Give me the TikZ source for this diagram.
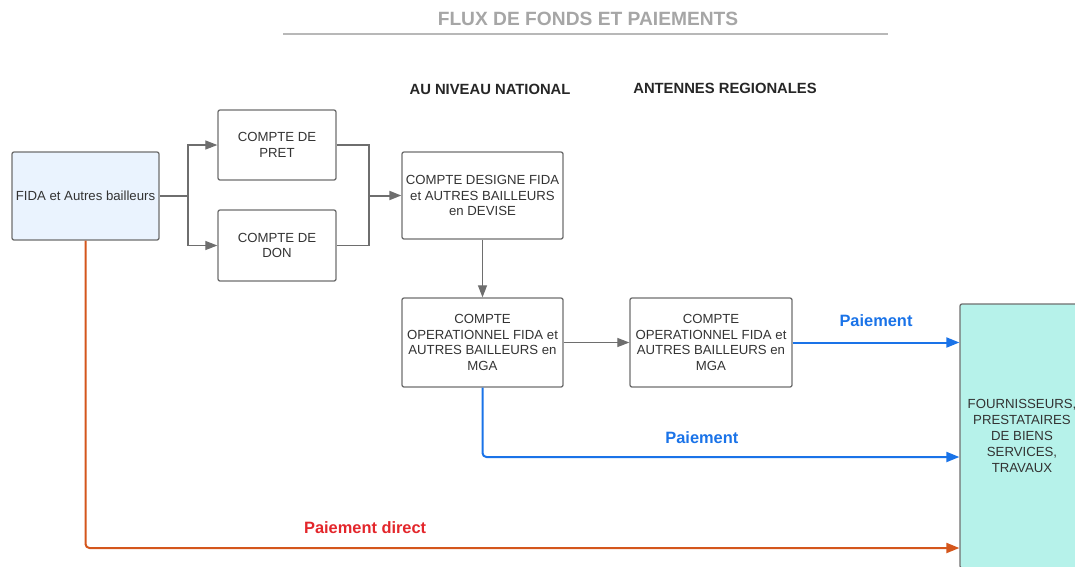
\documentclass[tikz,border=0pt]{standalone}
\usepackage{fontspec}
\setmainfont{Liberation Sans}
\usetikzlibrary{arrows.meta}
\definecolor{boxline}{HTML}{6E6E6E}
\definecolor{boxtext}{HTML}{333333}
\definecolor{srcfill}{HTML}{EAF3FE}
\definecolor{dstfill}{HTML}{B6F2EA}
\definecolor{paybl}{HTML}{1A73E8}
\definecolor{payor}{HTML}{D4561C}
\definecolor{payred}{HTML}{E3262B}
\definecolor{titlegray}{HTML}{A6A6A6}
\begin{document}
\begin{tikzpicture}[x=1pt,y=-1pt,
    acct/.style={draw=boxline,line width=1.3pt,rounded corners=2pt,align=center,text=boxtext,
        font=\fontsize{13.2}{15.8}\selectfont,inner sep=2pt},
    link/.style={draw=boxline,line width=1.2pt},
    tip/.style={-{Triangle[length=12pt,width=9pt]}},
    pay/.style={line width=2pt,rounded corners=4pt,-{Triangle[length=13pt,width=10pt]}},
    paylbl/.style={font=\fontsize{16.4}{19}\selectfont\bfseries},
    head/.style={font=\fontsize{14.8}{17}\selectfont\bfseries,text=black!85}]
    \useasboundingbox (0,0) rectangle (1075,566);
    \clip (0,0) rectangle (1075,566);
    % title
    \node[font=\fontsize{19.2}{22}\selectfont\bfseries,text=titlegray] (title) at (588,19) {FLUX DE FONDS ET PAIEMENTS};
    \draw[titlegray!80,line width=2pt] (283,34) -- (888,34);
    \node[head] (national) at (490,89) {AU NIVEAU NATIONAL};
    \node[head] (regional) at (725,88) {ANTENNES REGIONALES};
    % accounts
    \node[acct,fill=srcfill,minimum width=147pt,minimum height=88pt] (fida) at (85.5,196) {FIDA et Autres bailleurs};
    \node[acct,minimum width=118pt,minimum height=70pt] (pret) at (277,145) {COMPTE DE\\PRET};
    \node[acct,minimum width=118pt,minimum height=71pt] (don) at (277,245.5) {COMPTE DE\\DON};
    \node[acct,minimum width=161pt,minimum height=87pt] (designe) at (482.5,195.5) {COMPTE DESIGNE FIDA\\et AUTRES BAILLEURS\\en DEVISE};
    \node[acct,minimum width=161pt,minimum height=89pt] (oper1) at (482.5,342.5) {COMPTE\\OPERATIONNEL FIDA et\\AUTRES BAILLEURS en\\MGA};
    \node[acct,minimum width=162pt,minimum height=89pt] (oper2) at (711,342.5) {COMPTE\\OPERATIONNEL FIDA et\\AUTRES BAILLEURS en\\MGA};
    \node[acct,fill=dstfill,minimum width=124pt,minimum height=264pt] (fourn) at (1022,436) {FOURNISSEURS,\\PRESTATAIRES\\DE BIENS\\SERVICES,\\TRAVAUX};
    % fund flows
    \coordinate (split) at (188,196);
    \coordinate (merge) at (369,195.5);
    \draw[link] (fida.east) -- (split);
    \draw[link,tip] (split) |- (pret.west);
    \draw[link,tip] (split) |- (don.west);
    \draw[link] (pret.east) -| (merge);
    \draw[link] (don.east) -| (merge);
    \draw[link,line width=2pt,tip] (merge) -- (designe.west);
    \draw[link,tip] (designe.south) -- (oper1.north);
    \draw[link,tip] (oper1.east) -- (oper2.east -| oper2.west);
    % payments
    \coordinate (lvl1) at (0,342.5);
    \coordinate (lvl2) at (0,457);
    \coordinate (lvl3) at (0,548);
    \draw[pay,paybl] (oper2.east) -- (fourn.west |- lvl1)
        node[midway,above=12pt,paylbl] (pay1) {Paiement};
    \draw[pay,paybl] (oper1.south) |- (fourn.west |- lvl2)
        node[pos=0.73,above=9pt,paylbl] (pay2) {Paiement};
    \draw[pay,payor] (fida.south) |- (fourn.west |- lvl3)
        node[pos=0.66,above=10pt,paylbl,text=payred] (pay3) {Paiement direct};
\end{tikzpicture}
\end{document}
